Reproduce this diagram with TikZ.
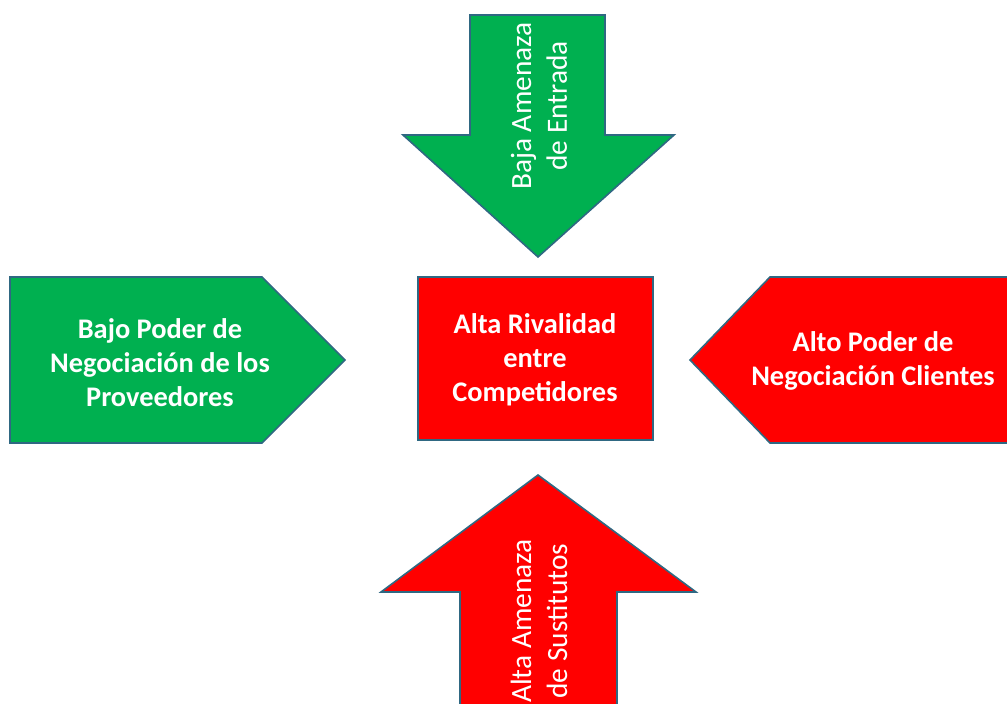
\documentclass[tikz,border=0pt]{standalone}
\usepackage{fontspec}
\setmainfont{Carlito}
\definecolor{gfill}{RGB}{0,176,80}
\definecolor{rfill}{RGB}{255,0,0}
\definecolor{edge}{RGB}{47,104,130}
\begin{document}
\begin{tikzpicture}[x=1bp,y=-1bp,
  shapebox/.style={draw=edge,line width=1.6bp,line join=miter},
  greenbox/.style={shapebox,fill=gfill},
  redbox/.style={shapebox,fill=rfill},
  htext/.style={text=white,align=center,font=\bfseries\fontsize{28.5}{34}\selectfont,inner sep=0pt},
  vtext/.style={text=white,align=center,font=\fontsize{29.5}{36}\selectfont,inner sep=0pt,rotate=90}]
\useasboundingbox (0,0) rectangle (1007,704);
\clip (0,0) rectangle (1007,704);
% top arrow (down)
\draw[greenbox] (470,15) -- (605,15) -- (605,135) -- (674,135) -- (538,257) -- (403,135) -- (470,135) -- cycle;
\node[vtext] (top) at (539,106) {Baja Amenaza\\de Entrada};
% left pentagon
\draw[greenbox] (10,277) -- (262,277) -- (345,360) -- (262,443) -- (10,443) -- cycle;
\node[htext] (left) at (160,363) {Bajo Poder de\\Negociación de los\\Proveedores};
% right pentagon
\draw[redbox] (1030,277) -- (770,277) -- (690,360) -- (770,443) -- (1030,443) -- cycle;
\node[htext] (right) at (873,361) {Alto Poder de\\Negociación Clientes};
% center box
\draw[redbox] (418,277) rectangle (653,440);
\node[htext] (center) at (535,360) {Alta Rivalidad\\entre\\Competidores};
% bottom arrow (up)
\draw[redbox] (460,760) -- (460,592) -- (381,592) -- (538,475) -- (696,592) -- (617,592) -- (617,760) -- cycle;
\node[vtext] (bottom) at (539,621) {Alta Amenaza\\de Sustitutos};
\end{tikzpicture}
\end{document}
